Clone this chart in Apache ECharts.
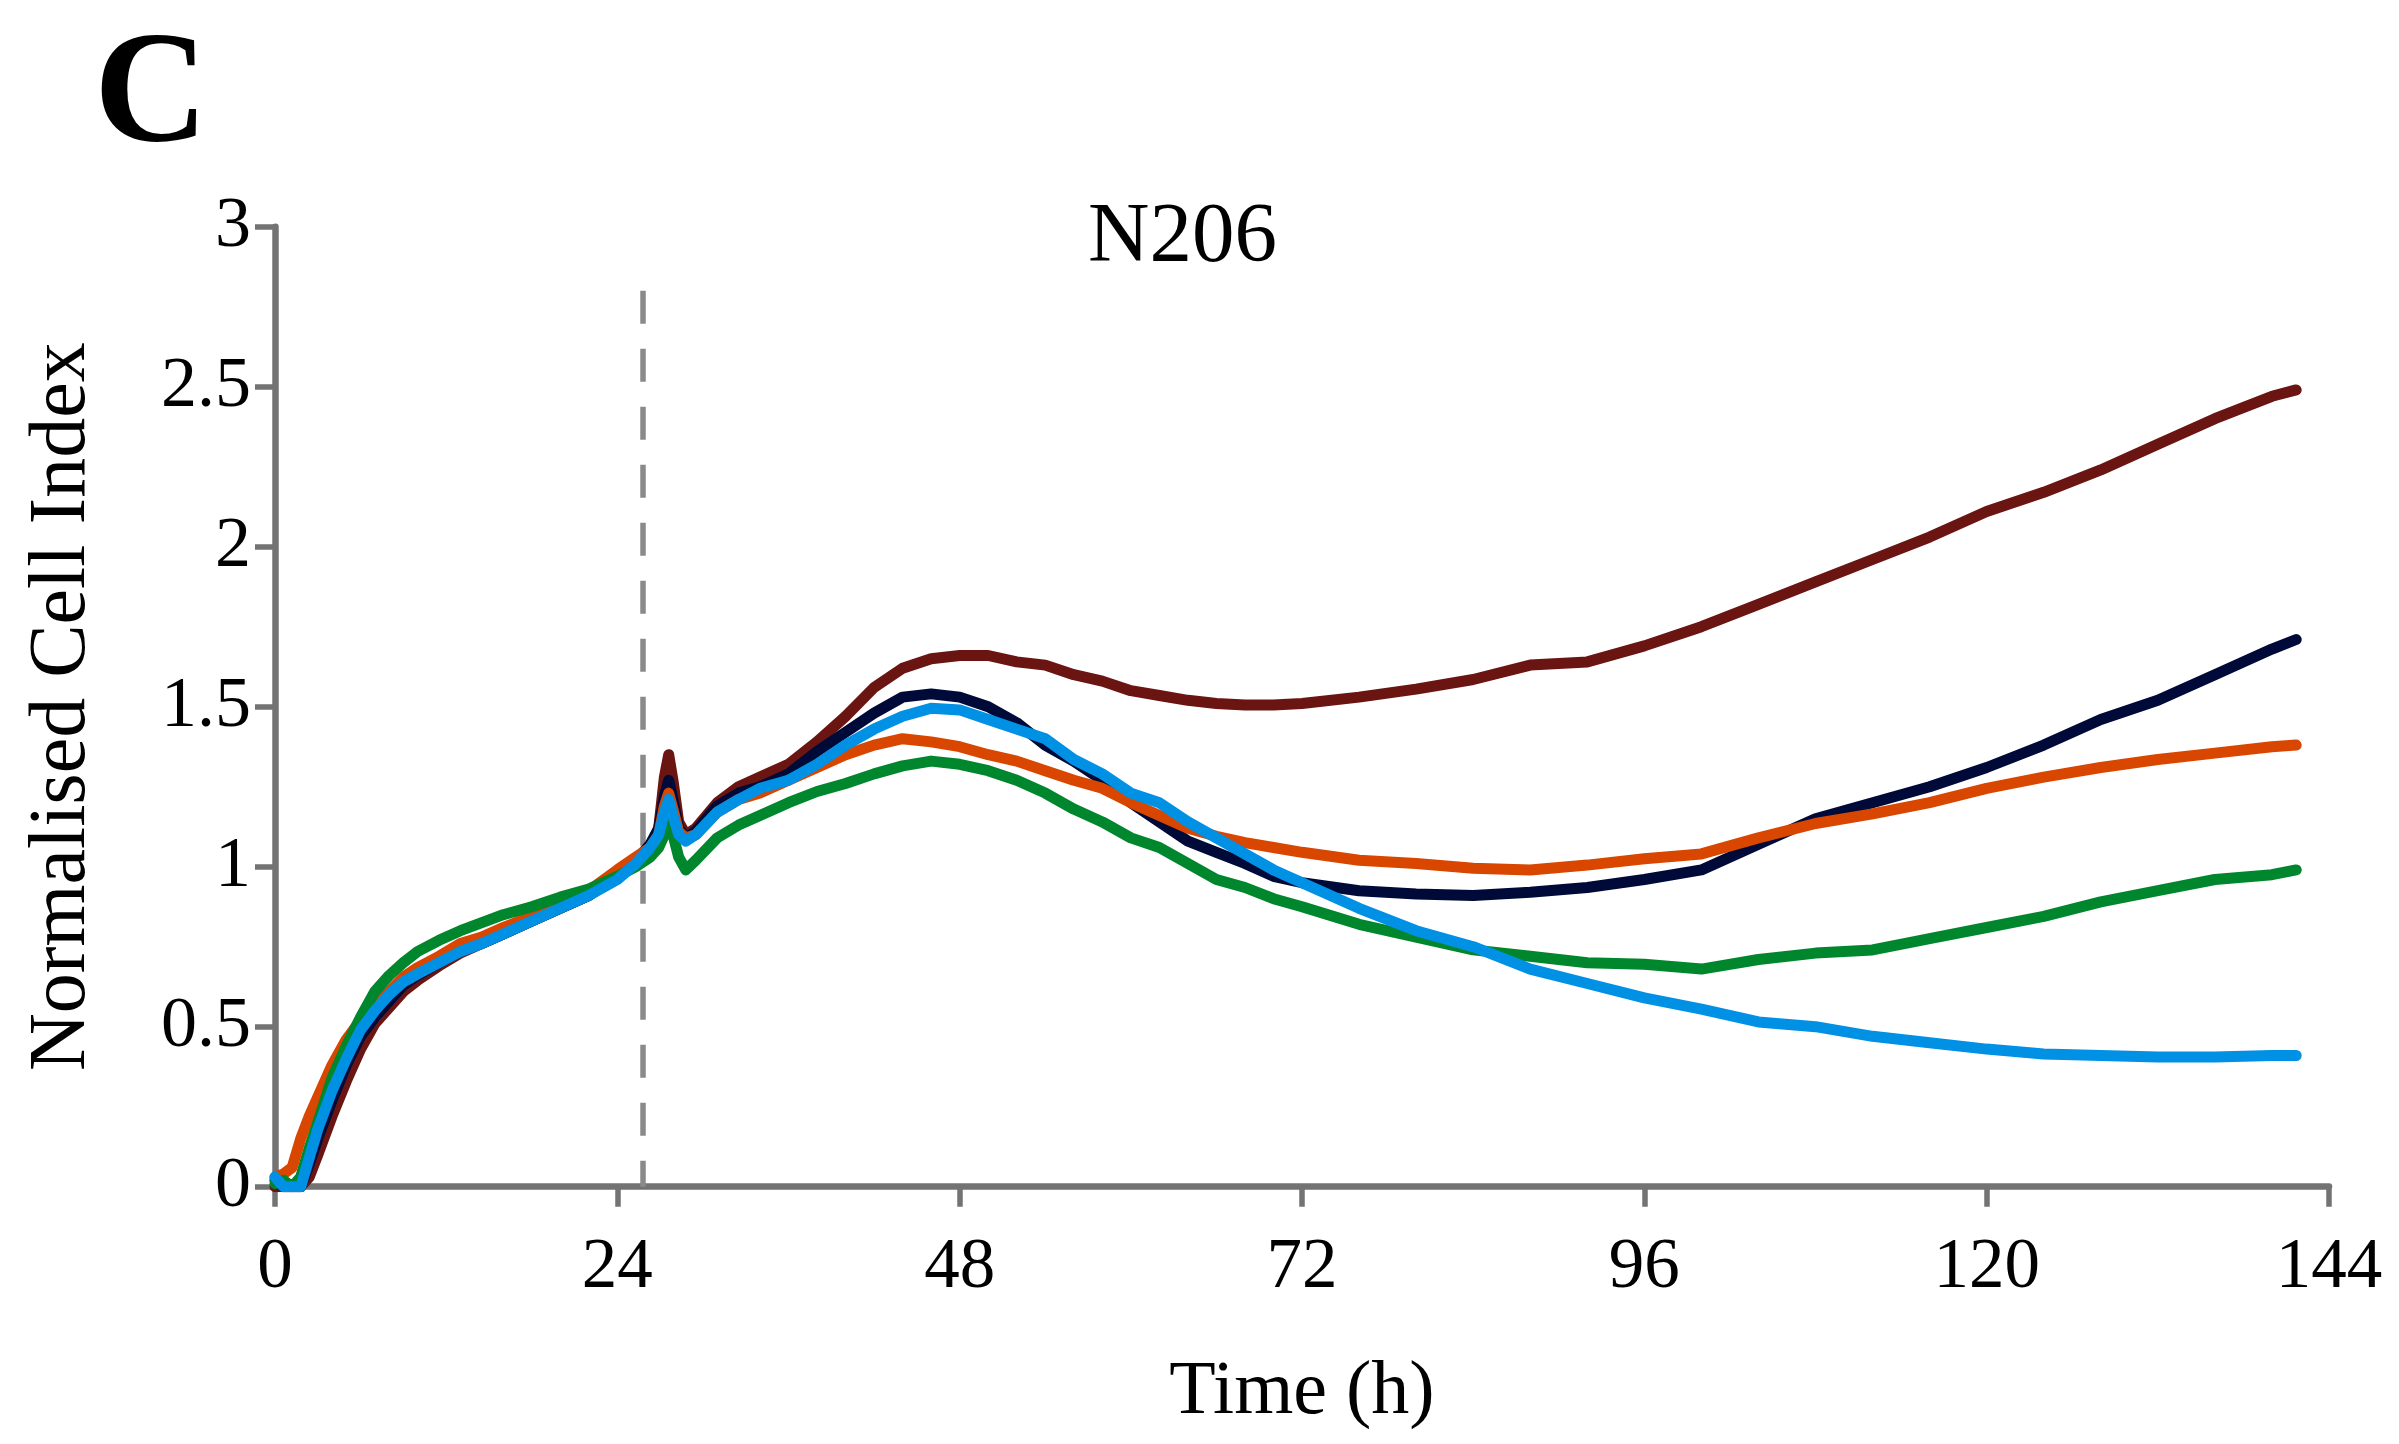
<!DOCTYPE html>
<html>
<head>
<meta charset="utf-8">
<script src="https://cdn.jsdelivr.net/npm/echarts@6/dist/echarts.min.js"></script>
<style>
  html, body { margin: 0; padding: 0; background: #ffffff; }
  #chart { width: 2399px; height: 1444px; }
</style>
</head>
<body>
<div id="chart"></div>
<script>
// ---- Data ----
const panelLabel = "C";
const chartTitle = "N206";
const xAxisTitle = "Time (h)";
const yAxisTitle = "Normalised Cell Index";

const hours = [0, 0.6, 1.2, 1.8, 2.4, 3, 4, 5, 6, 7, 8, 9, 10, 11.5, 13, 14.5, 16, 18, 20, 22, 24, 25.3, 26.3, 26.9, 27.3, 27.6, 27.9, 28.3, 28.8, 29.5, 31, 32.5, 34, 36, 38, 40, 42, 44, 46, 48, 50, 52, 54, 56, 58, 60, 62, 64, 66, 68, 70, 72, 76, 80, 84, 88, 92, 96, 100, 104, 108, 112, 116, 120, 124, 128, 132, 136, 140, 141.7];

const maroonSeries = [0, 0, 0, 0, 0.03, 0.1, 0.22, 0.33, 0.43, 0.51, 0.56, 0.61, 0.645, 0.69, 0.73, 0.76, 0.79, 0.83, 0.87, 0.91, 0.97, 1.02, 1.06, 1.12, 1.28, 1.35, 1.27, 1.14, 1.10, 1.12, 1.20, 1.25, 1.28, 1.32, 1.39, 1.47, 1.56, 1.62, 1.65, 1.66, 1.66, 1.64, 1.63, 1.60, 1.58, 1.55, 1.535, 1.52, 1.51, 1.505, 1.505, 1.51, 1.53, 1.555, 1.585, 1.63, 1.64, 1.69, 1.75, 1.82, 1.89, 1.96, 2.03, 2.11, 2.17, 2.24, 2.32, 2.40, 2.47, 2.49];

const navySeries = [0.02, 0, 0, 0, 0.07, 0.15, 0.27, 0.38, 0.47, 0.53, 0.58, 0.63, 0.66, 0.70, 0.74, 0.76, 0.79, 0.83, 0.87, 0.91, 0.97, 1.02, 1.07, 1.12, 1.22, 1.27, 1.21, 1.12, 1.09, 1.11, 1.19, 1.23, 1.25, 1.29, 1.36, 1.42, 1.48, 1.53, 1.54, 1.53, 1.50, 1.45, 1.38, 1.33, 1.27, 1.20, 1.14, 1.08, 1.045, 1.01, 0.97, 0.95, 0.925, 0.915, 0.91, 0.92, 0.935, 0.96, 0.99, 1.07, 1.15, 1.20, 1.25, 1.31, 1.38, 1.46, 1.52, 1.60, 1.68, 1.71];

const orangeSeries = [0.03, 0.04, 0.06, 0.15, 0.22, 0.28, 0.38, 0.46, 0.52, 0.57, 0.61, 0.655, 0.685, 0.72, 0.76, 0.78, 0.81, 0.845, 0.885, 0.925, 0.99, 1.03, 1.06, 1.10, 1.19, 1.23, 1.18, 1.11, 1.09, 1.10, 1.17, 1.21, 1.23, 1.27, 1.31, 1.35, 1.38, 1.40, 1.39, 1.375, 1.35, 1.33, 1.30, 1.27, 1.245, 1.20, 1.16, 1.12, 1.095, 1.075, 1.06, 1.045, 1.02, 1.01, 0.995, 0.99, 1.005, 1.025, 1.04, 1.09, 1.135, 1.165, 1.20, 1.245, 1.28, 1.31, 1.335, 1.355, 1.375, 1.38];

const greenSeries = [0.01, 0.02, 0, 0.03, 0.12, 0.2, 0.34, 0.44, 0.53, 0.61, 0.66, 0.70, 0.735, 0.77, 0.80, 0.825, 0.85, 0.875, 0.905, 0.93, 0.97, 1.0, 1.03, 1.06, 1.10, 1.14, 1.10, 1.03, 0.99, 1.02, 1.09, 1.13, 1.16, 1.20, 1.235, 1.26, 1.29, 1.315, 1.33, 1.32, 1.30, 1.27, 1.23, 1.18, 1.14, 1.09, 1.06, 1.01, 0.96, 0.935, 0.90, 0.875, 0.82, 0.78, 0.74, 0.72, 0.70, 0.695, 0.68, 0.71, 0.73, 0.74, 0.775, 0.81, 0.845, 0.89, 0.925, 0.96, 0.975, 0.99];

const blueSeries = [0.03, 0, 0, 0, 0.09, 0.18, 0.30, 0.40, 0.49, 0.55, 0.60, 0.64, 0.665, 0.70, 0.735, 0.76, 0.79, 0.83, 0.87, 0.91, 0.96, 1.01, 1.06, 1.10, 1.17, 1.21, 1.16, 1.10, 1.08, 1.10, 1.17, 1.21, 1.245, 1.27, 1.32, 1.38, 1.43, 1.47, 1.495, 1.49, 1.46, 1.43, 1.40, 1.335, 1.29, 1.23, 1.20, 1.14, 1.09, 1.04, 0.99, 0.95, 0.87, 0.80, 0.75, 0.68, 0.635, 0.59, 0.555, 0.515, 0.50, 0.47, 0.45, 0.43, 0.415, 0.41, 0.405, 0.405, 0.41, 0.41];

// treatment marker (dashed vertical line), in data units
const treatmentHour = 25.8;
const treatmentTop = 2.8;

// axis ticks
const xTicks = [0, 24, 48, 72, 96, 120, 144];
const yTicks = [0, 0.5, 1, 1.5, 2, 2.5, 3];

// ---- Chart ----
const FONT = '"Liberation Serif", "Times New Roman", serif';
const AXIS_GREY = '#737373';

function pairs(vals) { return hours.map((h, i) => [h, vals[i]]); }

const seriesDefs = [
  { name: 'maroon', color: '#6a1512', values: maroonSeries },
  { name: 'navy', color: '#000a38', values: navySeries },
  { name: 'orange', color: '#d84600', values: orangeSeries },
  { name: 'green', color: '#00862c', values: greenSeries },
  { name: 'blue', color: '#0090e4', values: blueSeries }
];

const chart = echarts.init(document.getElementById('chart'), null, { renderer: 'canvas' });

const series = [{
  name: 'treatment',
  type: 'line',
  data: [[treatmentHour, treatmentTop], [treatmentHour, 0]],
  showSymbol: false,
  silent: true,
  z: 1,
  lineStyle: { color: '#8a8a8a', width: 5.5, type: [33, 25] }
}].concat(seriesDefs.map((s, k) => ({
  name: s.name,
  type: 'line',
  data: pairs(s.values),
  showSymbol: false,
  smooth: false,
  silent: true,
  z: 2 + k,
  lineStyle: { color: s.color, width: 11, cap: 'round', join: 'round' }
})));

chart.setOption({
  animation: false,
  backgroundColor: '#ffffff',
  grid: { left: 275, right: 70, top: 226.7, bottom: 257.3, containLabel: false },
  xAxis: {
    type: 'value',
    min: xTicks[0], max: xTicks[xTicks.length - 1], interval: xTicks[1] - xTicks[0],
    name: xAxisTitle, nameLocation: 'middle', nameGap: 168,
    nameTextStyle: { fontFamily: FONT, fontSize: 76, color: '#000' },
    axisLine: { show: true, lineStyle: { color: AXIS_GREY, width: 6.5 } },
    axisTick: { show: true, inside: false, length: 20, lineStyle: { color: AXIS_GREY, width: 5.5 } },
    axisLabel: { fontFamily: FONT, fontSize: 71, color: '#000', margin: 46 },
    splitLine: { show: false }
  },
  yAxis: {
    type: 'value',
    min: yTicks[0], max: yTicks[yTicks.length - 1], interval: yTicks[1] - yTicks[0],
    name: yAxisTitle, nameLocation: 'middle', nameGap: 172,
    nameTextStyle: { fontFamily: FONT, fontSize: 80, color: '#000' },
    axisLine: { show: true, lineStyle: { color: AXIS_GREY, width: 6.5 } },
    axisTick: { show: true, inside: false, length: 20, lineStyle: { color: AXIS_GREY, width: 5.5 } },
    axisLabel: { fontFamily: FONT, fontSize: 72, color: '#000', margin: 24 },
    splitLine: { show: false }
  },
  graphic: [
    { type: 'text', left: 94, top: 20, style: { text: panelLabel, font: 'bold 158px ' + FONT, fill: '#000' } },
    { type: 'text', left: 1088, top: 196, style: { text: chartTitle, font: '85px ' + FONT, fill: '#000' } }
  ],
  series: series
});
</script>
</body>
</html>
